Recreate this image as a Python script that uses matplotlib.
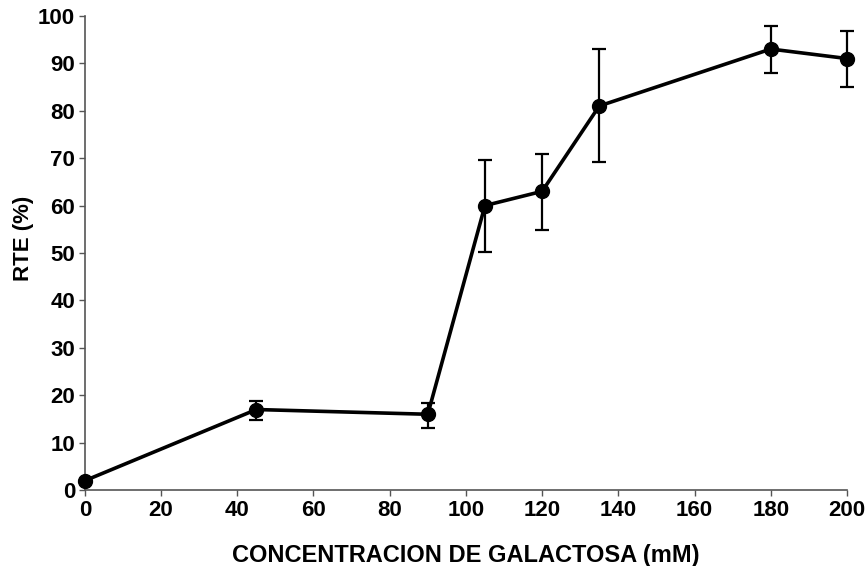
import matplotlib
matplotlib.use("Agg")
import matplotlib.pyplot as plt

conc = [0, 45, 90, 105, 120, 135, 180, 200]
rte = [2.0, 17.0, 16.0, 60.0, 63.0, 81.0, 93.0, 91.0]
err_low = [0.0, 2.3, 2.8, 9.8, 8.1, 11.8, 5.0, 6.0]
err_high = [0.0, 1.8, 2.4, 9.6, 7.9, 12.1, 4.8, 5.8]
xticks = list(range(0, 201, 20))
yticks = list(range(0, 101, 10))

plt.rcParams['font.family'] = ['Liberation Sans', 'DejaVu Sans']
plt.rcParams['font.weight'] = 'bold'

fig = plt.figure(figsize=(8.66, 5.66), dpi=100)
ax = fig.add_axes([0.098, 0.134, 0.880, 0.838])

ax.errorbar(conc, rte, yerr=[err_low, err_high], fmt='-o', color='black',
            lw=2.6, markersize=10, ecolor='black', elinewidth=1.6,
            capsize=5, capthick=1.6, clip_on=False, zorder=3)

ax.set_xlim(0, 200)
ax.set_ylim(0, 100)
ax.set_xticks(xticks)
ax.set_yticks(yticks)
for s in ['top', 'right']:
    ax.spines[s].set_visible(False)
for s in ['left', 'bottom']:
    ax.spines[s].set_color('#555555')
    ax.spines[s].set_linewidth(1.2)
ax.tick_params(axis='both', direction='out', length=4, width=1.0,
               color='#555555', labelsize=16, pad=3)
for lab in ax.get_xticklabels() + ax.get_yticklabels():
    lab.set_fontweight('bold')

ax.set_xlabel('CONCENTRACION DE GALACTOSA (mM)', fontsize=17,
              fontweight='bold', labelpad=17)
ax.set_ylabel('RTE (%)', fontsize=16, fontweight='bold', va='center')
ax.yaxis.set_label_coords(24 / 866, 1 - 238 / 566, transform=fig.transFigure)

fig.savefig('out.png', dpi=100)
